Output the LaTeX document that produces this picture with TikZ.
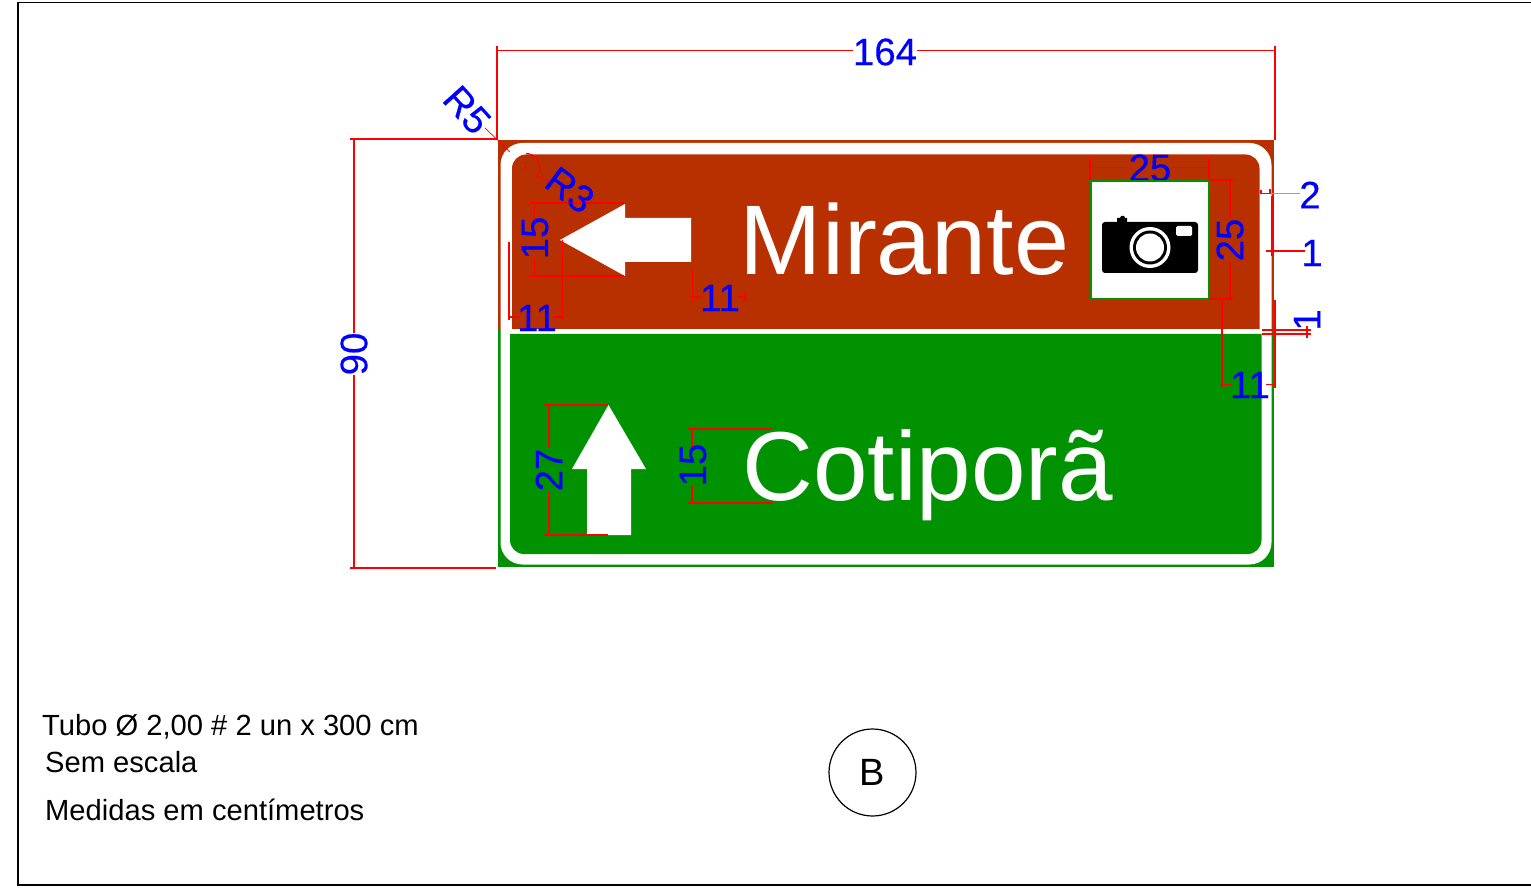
\documentclass[tikz,border=0pt]{standalone}
\usepackage{fontspec}
\setmainfont{Liberation Sans}
\newfontfamily\dimfont[FakeBold=0.35]{Liberation Sans}
\definecolor{signbrown}{RGB}{184,48,0}
\definecolor{signgreen}{RGB}{0,146,0}
\definecolor{dimblue}{RGB}{0,0,255}
\definecolor{dimred}{RGB}{255,0,0}
\tikzset{
  dimline/.style={draw=dimred,line width=1.05pt},
  dimthick/.style={draw=dimred,line width=2pt},
  dimtext/.style={text=dimblue,inner sep=0pt,font=\dimfont\fontsize{38.3}{38}\selectfont},
  signtext/.style={text=white,inner sep=0pt,anchor=base west,font=\fontsize{98}{98}\selectfont},
  notetext/.style={text=black,inner sep=0pt,anchor=base west,font=\fontsize{29.15}{30}\selectfont},
  frameline/.style={draw=black,line width=1.2pt}
}
\begin{document}
\begin{tikzpicture}[x=1pt,y=-1pt]
\useasboundingbox (0,0) rectangle (1531,890);
% frame
\draw[frameline] (1531,2.5) -- (18,2.5) -- (18,885) -- (1531,885);
% sign
\fill[signbrown] (498,140) rectangle (1274,332);
\fill[signgreen] (498,330) rectangle (1274,567);
\fill[white,rounded corners=22pt] (500.5,143) rectangle (1271.5,564.5);
\fill[signbrown] (512,329) [rounded corners=14pt] -- (512,154.5) -- (1259.5,154.5) [sharp corners] -- (1259.5,329) -- cycle;
\fill[signgreen] (510,334) [rounded corners=14pt] -- (510,554) -- (1261.5,554) [sharp corners] -- (1261.5,334) -- cycle;
% arrows
\fill[white] (560,240) -- (625,204) -- (625,218) -- (691,218) -- (691,262) -- (625,262) -- (625,276) -- cycle;
\fill[white] (608.5,405) -- (646,469) -- (631,469) -- (631,535) -- (587,535) -- (587,469) -- (572,469) -- cycle;
% sign texts
\node[signtext,font=\fontsize{98.9}{98}\selectfont] (mirante) at (739.5,275) {Mirante};
\node[signtext] (cotipora) at (742.5,500) {Cotiporã};
% dimension 25 (top), partly hidden by the pictogram
\draw[dimline] (1090,158) -- (1090,180) (1209,158) -- (1209,180);
\draw[dimline] (1090,167.5) -- (1128,167.5) (1172,167.5) -- (1209,167.5);
\node[dimtext] (d25a) at (1150,168) {25};
% pictogram
\draw[draw=signgreen,line width=2pt,fill=white] (1091,181) rectangle (1209,299);
\fill[black,rounded corners=3pt] (1102,222) rectangle (1198,273);
\fill[black] (1117,222) -- (1117,218) -- (1120,218) -- (1121,216) -- (1124,216) -- (1125,218) -- (1127,218) -- (1127,222) -- cycle;
\fill[white] (1150,247.5) circle (20.5pt);
\fill[black] (1150,247.5) circle (17pt);
\fill[white] (1150,247.5) circle (14pt);
\fill[white,rounded corners=1.5pt] (1176,226) rectangle (1192,236);
% dimension 164
\draw[dimline] (497,46) -- (497,140) (1275,46) -- (1275,140);
\draw[dimline] (497,50.5) -- (853,50.5) (917,50.5) -- (1275,50.5);
\node[dimtext] (d164) at (885,52) {164};
% dimension 90
\draw[dimthick] (350,139.5) -- (497,139.5) (350,568) -- (496,568);
\draw[dimline] (354,139) -- (354,333) (354,375) -- (354,568);
\node[dimtext,rotate=90] (d90) at (354,354) {90};
% R5
\draw[dimline,line width=.7pt] (485,128) -- (510,152);
\node[dimtext,rotate=-48] (r5) at (467,110) {R5};
% 15 left arrow
\draw[dimthick] (530,203.5) -- (624,203.5) (530,276.5) -- (624,276.5);
\draw[dimline] (534.5,203) -- (534.5,220) (534.5,258) -- (534.5,277);
\node[dimtext,rotate=90] (d15a) at (535,238) {15};
% R3
\draw[dimline] (526,153.5) arc[start angle=90,end angle=-40,radius=14pt];
\draw[dimline] (536,176) -- (549,181);
\fill[dimred] (525.5,167.5) circle (1.6pt);
\node[dimtext,rotate=-37] (r3) at (570,190) {R3};
% 11 left
\draw[dimthick,line width=1.6pt] (509,242) -- (509,320) (562.5,240) -- (562.5,320);
\draw[dimline] (508,317) -- (519,317) (553,317) -- (563,317);
\node[dimtext] (d11a) at (537,318) {11};
% 11 middle
\draw[dimline] (692.5,270) -- (692.5,302) (692,297) -- (702,297) (738,297) -- (746,297) (745,292) -- (745,302);
\node[dimtext] (d11b) at (720,298) {11};
% 25 right
\draw[dimthick] (1209,180) -- (1234,180) (1209,299) -- (1234,299);
\draw[dimline] (1230,180) -- (1230,217) (1230,262) -- (1230,299);
\node[dimtext,rotate=90] (d25b) at (1230,240) {25};
% 11 right
\draw[dimthick] (1222,299) -- (1222,388) (1275,300) -- (1275,388);
\draw[dimline] (1222,384.5) -- (1232,384.5) (1266,384.5) -- (1276,384.5);
\node[dimtext] (d11c) at (1250,385) {11};
% 2
\draw[draw=dimred!55,line width=1.2pt] (1268,193.5) -- (1300,193.5);
\draw[dimline] (1260,193.5) -- (1270,193.5) (1261,190) -- (1261,194) (1270,189) -- (1270,194);
\node[dimtext] (d2) at (1310,195) {2};
% 1
\draw[dimline] (1266,251) -- (1305,251);
\draw[dimthick,line width=3pt] (1272,196) -- (1272,256);
\node[dimtext] (d1a) at (1312,253) {1};
% 1 rotated
\draw[dimthick] (1262,330.5) -- (1311,330.5);
\draw[dimline] (1262,334) -- (1311,334) (1307,326) -- (1307,338);
\node[dimtext,rotate=90] (d1b) at (1307,320) {1};
% 15 lower
\draw[dimthick] (688,428.5) -- (772,428.5) (688,502.5) -- (773,502.5);
\draw[dimline] (692,428) -- (692,447) (692,485) -- (692,503);
\node[dimtext,rotate=90] (d15b) at (693,465) {15};
% 27
\draw[dimline] (549,404) -- (549,448) (549,492) -- (549,535);
\draw[dimthick] (544,404.5) -- (608,404.5) (544,535) -- (608,535);
\node[dimtext,rotate=90] (d27) at (549,470) {27};
% notes
\node[notetext] (n1) at (42,735) {Tubo Ø 2,00 \# 2 un x 300 cm};
\node[notetext] (n2) at (45,772) {Sem escala};
\node[notetext] (n3) at (45,820) {Medidas em centímetros};
% B
\node[draw=black,line width=1.2pt,circle,minimum size=87pt,inner sep=0pt,font=\fontsize{38}{38}\selectfont] (b) at (872.5,772.5) {B};
\end{tikzpicture}
\end{document}
